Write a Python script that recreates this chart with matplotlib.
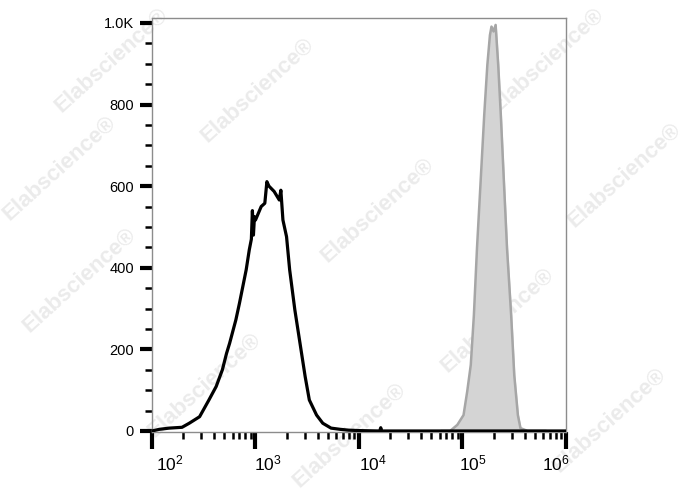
import numpy as np
import matplotlib
matplotlib.use("Agg")
import matplotlib.pyplot as plt
from matplotlib.ticker import FixedLocator, NullFormatter

plt.rcParams['font.family'] = ['Liberation Sans', 'DejaVu Sans']
plt.rcParams['mathtext.fontset'] = 'custom'
plt.rcParams['mathtext.rm'] = 'Liberation Sans'

# control (black outline), log10 of intensity vs count
ctrl_log = [2.0, 2.07, 2.165, 2.29, 2.36, 2.46, 2.55, 2.62, 2.68, 2.72, 2.75, 2.81, 2.845,
            2.91, 2.94, 2.96, 2.97, 2.98, 2.99, 3.0, 3.055, 3.09, 3.11, 3.13, 3.18, 3.23,
            3.245, 3.265, 3.30, 3.33, 3.38, 3.43, 3.48, 3.52, 3.59, 3.65, 3.73, 3.82, 3.9,
            4.0, 4.2, 4.21, 4.22, 4.5, 5.0, 6.0]
ctrl_count = [0, 4, 7, 9, 19, 35, 76, 109, 150, 190, 215, 272, 313,
              395, 444, 470, 540, 480, 525, 517, 550, 558, 611, 600, 587, 566,
              590, 517, 476, 395, 297, 215, 133, 76, 39, 19, 7, 4, 2,
              1, 0, 8, 0, 0, 0, 0]

# stained sample (grey filled)
stain_log = [4.8, 4.88, 4.95, 5.01, 5.045, 5.08, 5.11, 5.14, 5.175, 5.21, 5.24,
             5.265, 5.28, 5.30, 5.32, 5.345, 5.37, 5.40, 5.43, 5.47, 5.50, 5.535,
             5.56, 5.63, 5.8]
stain_count = [0, 0, 15, 39, 96, 162, 284, 448, 611, 775, 897,
               970, 991, 979, 995, 897, 775, 611, 448, 284, 137, 39,
               7, 0, 0]

ytick_vals = [0, 200, 400, 600, 800, 1000]
ytick_labels = ['0', '200', '400', '600', '800', '1.0K']
decades = [2, 3, 4, 5, 6]

fig = plt.figure(figsize=(6.88, 4.9), dpi=100)
ax = fig.add_axes([152/688, 1-432/490, 414/688, 414/490])

# watermark
wm = [(112, 60), (60, 168), (258, 90), (548, 60), (625, 175), (378, 210),
      (80, 280), (498, 320), (205, 385), (610, 420), (350, 435)]
for (px, py) in wm:
    fig.text(px/688, 1-py/490, 'Elabscience\u00ae', rotation=42, ha='center', va='center',
             fontsize=16, fontweight='bold', color='#ebebeb', zorder=-5)

sx = 10**np.array(stain_log)
cx = 10**np.array(ctrl_log)
ax.fill_between(sx, stain_count, 0, color='#d4d4d4', zorder=2)
ax.plot(sx, stain_count, color='#a6a6a6', lw=1.8, zorder=3)
ax.plot(cx, ctrl_count, color='black', lw=2.3, zorder=4)

ax.set_xscale('log')
ax.set_xlim(100, 1e6)
ax.set_ylim(-2.5, 1012)
ax.patch.set_alpha(0)

for s in ax.spines.values():
    s.set_color('#8c8c8c')
    s.set_linewidth(1.0)

ax.yaxis.set_major_locator(FixedLocator(ytick_vals))
ax.set_yticklabels(ytick_labels)
ax.yaxis.set_minor_locator(FixedLocator([v for v in range(50, 1000, 50) if v % 200]))
ax.tick_params(axis='y', which='major', length=9, width=3, color='black', labelsize=10.5, pad=4)
ax.tick_params(axis='y', which='minor', length=5, width=1.8, color='black')

ax.xaxis.set_major_locator(FixedLocator([10**d for d in decades]))
minors = [m*10**d for d in decades[:-1] for m in range(2, 10)]
ax.xaxis.set_minor_locator(FixedLocator(minors))
ax.xaxis.set_major_formatter(NullFormatter())
ax.xaxis.set_minor_formatter(NullFormatter())
ax.tick_params(axis='x', which='major', length=12, width=3, color='black')
ax.tick_params(axis='x', which='minor', length=5, width=1.8, color='black')

# decade labels sit a little right of their ticks
label_off = [0.17, 0.12, 0.13, 0.10, -0.10]
for d, off in zip(decades, label_off):
    ax.text(10**(d+off), -0.075, r'$\mathregular{10^{%d}}$' % d, transform=ax.get_xaxis_transform(),
            ha='center', va='center', fontsize=12.5)

fig.savefig('out.png', dpi=100)
